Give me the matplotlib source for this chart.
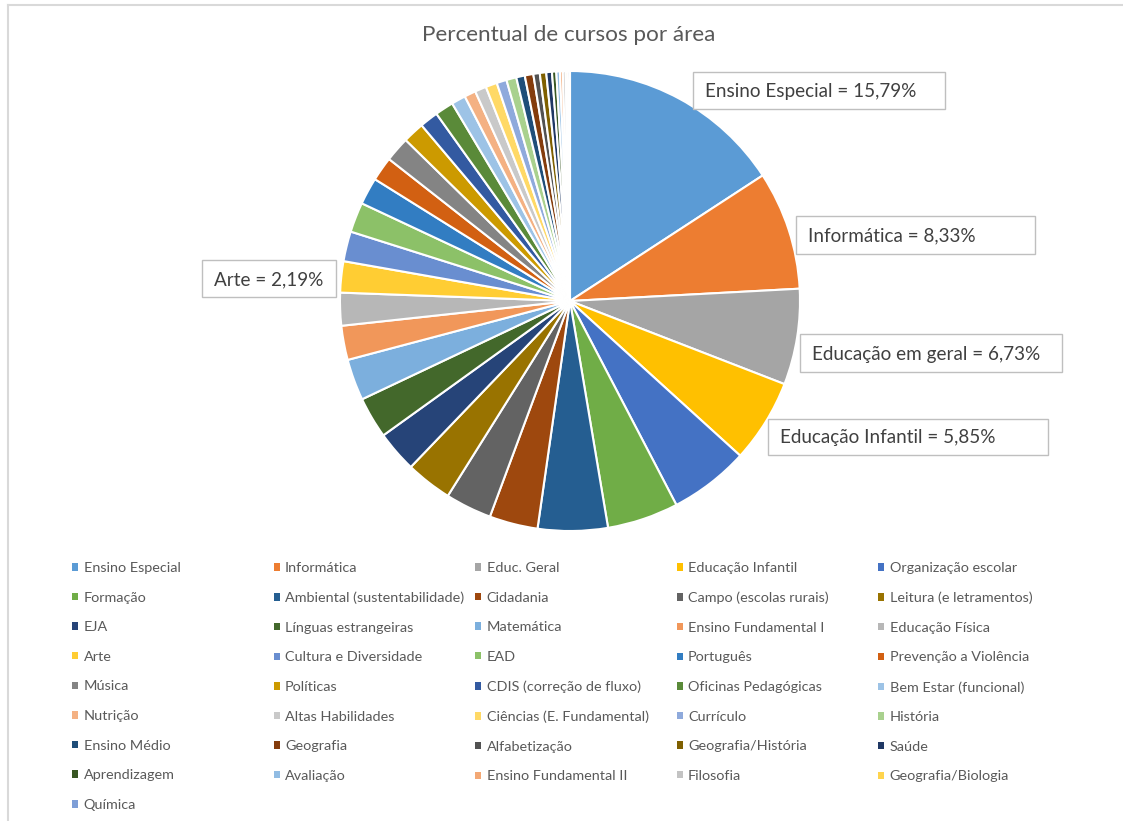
import matplotlib
matplotlib.use("Agg")
import matplotlib.pyplot as plt
from matplotlib.patches import Patch, Rectangle
from matplotlib.lines import Line2D

plt.rcParams['font.family'] = ['Lato', 'DejaVu Sans']

# categorias na ordem da legenda (sentido horario a partir do topo)
categorias = ['Ensino Especial', 'Informática', 'Educ. Geral', 'Educação Infantil', 'Organização escolar',
              'Formação', 'Ambiental (sustentabilidade)', 'Cidadania', 'Campo (escolas rurais)', 'Leitura (e letramentos)',
              'EJA', 'Línguas estrangeiras', 'Matemática', 'Ensino Fundamental I', 'Educação Física',
              'Arte', 'Cultura e Diversidade', 'EAD', 'Português', 'Prevenção a Violência',
              'Música', 'Políticas', 'CDIS (correção de fluxo)', 'Oficinas Pedagógicas', 'Bem Estar (funcional)',
              'Nutrição', 'Altas Habilidades', 'Ciências (E. Fundamental)', 'Currículo', 'História',
              'Ensino Médio', 'Geografia', 'Alfabetização', 'Geografia/História', 'Saúde',
              'Aprendizagem', 'Avaliação', 'Ensino Fundamental II', 'Filosofia', 'Geografia/Biologia',
              'Química']

valores = [15.79, 8.33, 6.73, 5.85, 5.6,
           5.0, 4.9, 3.4, 3.25, 3.25,
           2.9, 2.9, 2.9, 2.4, 2.3,
           2.19, 2.1, 2.1, 1.9, 1.7,
           1.75, 1.5, 1.3, 1.3, 1.0,
           0.8, 0.8, 0.8, 0.7, 0.7,
           0.6, 0.6, 0.45, 0.45, 0.4,
           0.3, 0.25, 0.2, 0.2, 0.15,
           0.15]

# fatias com rotulo e o texto usado no rotulo
rotulos = {0: 'Ensino Especial', 1: 'Informática', 2: 'Educação em geral',
           3: 'Educação Infantil', 15: 'Arte'}

cores = ['#5B9BD5', '#ED7D31', '#A5A5A5', '#FFC000', '#4472C4', '#70AD47',
         '#255E91', '#9E480E', '#636363', '#997300', '#264478', '#43682B',
         '#7CAFDD', '#F1975A', '#B7B7B7', '#FFCD33', '#698ED0', '#8CC168',
         '#327DC2', '#D26012', '#848484', '#CC9A00', '#335AA1', '#5A8A39',
         '#9DC3E6', '#F4B183', '#C9C9C9', '#FFD966', '#8FAADC', '#A9D18E',
         '#1F4E79', '#843C0C', '#525252', '#7F6000', '#203864', '#385723',
         '#91BCE3', '#F3A875', '#C3C3C3', '#FFD44D', '#7E9ED7']

W, H = 1123, 821
def fx(px):
    return px / W
def fy(py):
    return 1 - py / H

fig = plt.figure(figsize=(W / 100, H / 100), dpi=100)

# pizza
ax = fig.add_axes([fx(340), fy(531), 460 / W, 460 / H])
wedges, _ = ax.pie(valores, colors=cores, startangle=90, counterclock=False,
                   wedgeprops=dict(edgecolor='white', linewidth=1.5))
for w in wedges:
    w.set_clip_on(False)
ax.set_xlim(-1, 1)
ax.set_ylim(-1, 1)
ax.axis('off')

fig.text(fx(569), fy(35), 'Percentual de cursos por área', ha='center', va='center',
         fontsize=16.2, color='#595959')

# caixas dos rotulos (pixels: x0, y0, x1, y1)
caixas = {0: (693, 72, 945, 109), 1: (796, 216, 1035, 254), 2: (800, 334, 1062, 372),
          3: (768, 419, 1048, 455), 15: (202, 260, 336, 297)}
for i, (x0, y0, x1, y1) in caixas.items():
    fig.add_artist(Rectangle((fx(x0), fy(y1)), (x1 - x0) / W, (y1 - y0) / H,
                             transform=fig.transFigure, facecolor='white',
                             edgecolor='#BFBFBF', linewidth=1))
    txt = f"{rotulos[i]} = {valores[i]:.2f}%".replace('.', ',')
    fig.text(fx(x0 + 12), fy((y0 + y1) / 2 + 1), txt, ha='left', va='center',
             fontsize=13.6, color='#404040')

# legenda em 5 colunas, preenchida por linha
n = len(categorias)
for c in range(5):
    hs = [Patch(facecolor=cores[i], edgecolor='none') for i in range(c, n, 5)]
    labs = categorias[c::5]
    fig.legend(hs, labs, loc='upper left', bbox_to_anchor=(fx(72 + c * 201.5), fy(562)),
               frameon=False, borderpad=0, borderaxespad=0,
               handlelength=0.42, handleheight=0.42, handletextpad=0.38,
               labelspacing=1.22, prop=dict(size=10.4), labelcolor='#595959')

# borda da area do grafico
fig.add_artist(Line2D([fx(7.5), 1], [fy(5.5), fy(5.5)], color='#D9D9D9', lw=1.5))
fig.add_artist(Line2D([fx(7.5), fx(7.5)], [fy(5.5), 0], color='#D9D9D9', lw=1.5))

fig.savefig('out.png', dpi=100)
